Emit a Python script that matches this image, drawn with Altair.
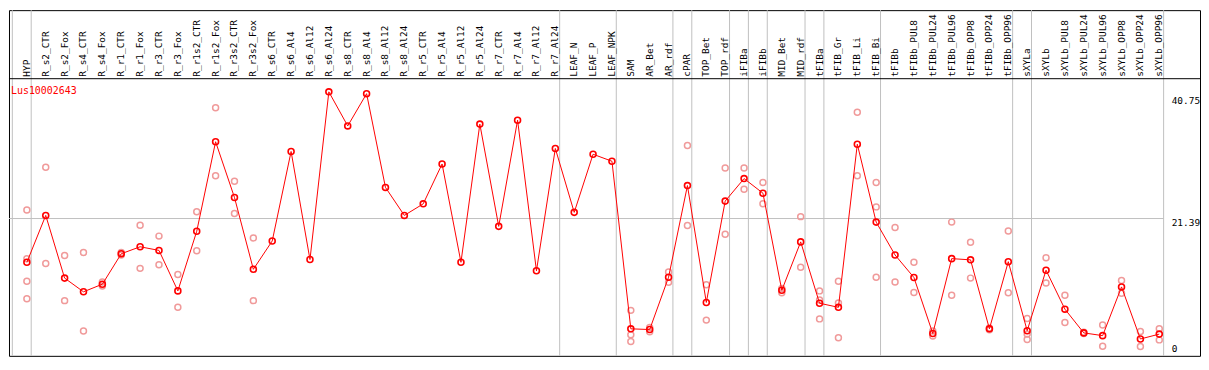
import altair as alt
import pandas as pd

gene = "Lus10002643"

categories = [
    "HYP", "R_s2_CTR", "R_s2_Fox", "R_s4_CTR", "R_s4_Fox", "R_r1_CTR", "R_r1_Fox",
    "R_r3_CTR", "R_r3_Fox", "R_r1s2_CTR", "R_r1s2_Fox", "R_r3s2_CTR", "R_r3s2_Fox",
    "R_s6_CTR", "R_s6_Al4", "R_s6_Al12", "R_s6_Al24", "R_s8_CTR", "R_s8_Al4",
    "R_s8_Al12", "R_s8_Al24", "R_r5_CTR", "R_r5_Al4", "R_r5_Al12", "R_r5_Al24",
    "R_r7_CTR", "R_r7_Al4", "R_r7_Al12", "R_r7_Al24", "LEAF_N", "LEAF_P", "LEAF_NPK",
    "SAM", "AR_Bet", "AR_rdf", "cPAR", "TOP_Bet", "TOP_rdf", "iFIBa", "iFIBb",
    "MID_Bet", "MID_rdf", "tFIBa", "tFIB_Gr", "tFIB_Li", "tFIB_Bi", "tFIBb",
    "tFIBb_PUL8", "tFIBb_PUL24", "tFIBb_PUL96", "tFIBb_OPP8", "tFIBb_OPP24",
    "tFIBb_OPP96", "sXYLa", "sXYLb", "sXYLb_PUL8", "sXYLb_PUL24", "sXYLb_PUL96",
    "sXYLb_OPP8", "sXYLb_OPP24", "sXYLb_OPP96",
]

means = [
    14.2, 21.9, 11.6, 9.35, 10.6, 15.6, 16.75, 16.15, 9.5, 19.3,
    34.0, 24.85, 13.05, 17.7, 32.4, 14.65, 42.2, 36.6, 41.9, 26.5,
    21.9, 23.8, 30.35, 14.2, 36.9, 20.1, 37.55, 12.8, 32.9, 22.4,
    31.95, 30.8, 3.27, 3.15, 11.75, 26.8, 7.6, 24.25, 27.95, 25.55,
    9.6, 17.55, 7.47, 6.8, 33.6, 20.8, 15.4, 11.7, 2.5, 14.8,
    14.6, 3.27, 14.3, 2.96, 12.9, 6.5, 2.6, 2.15, 10.15, 1.6,
    2.4,
]

replicates = [
    [22.8, 14.8, 11.1, 8.2], [29.8, 14.0], [15.3, 7.9], [15.8, 2.9], [10.95, 10.3],
    [15.8, 15.4], [20.3, 13.2], [18.5, 13.8], [12.2, 6.8], [22.5, 16.1],
    [39.6, 28.4], [27.5, 22.2], [18.2, 7.9],
    [], [], [], [], [], [], [], [], [], [], [], [], [], [], [], [], [], [], [],
    [6.3, 2.3, 1.2], [3.5, 2.8], [12.6, 10.9], [33.4, 20.25], [10.5, 4.7],
    [29.7, 18.8], [29.7, 26.2], [27.3, 23.8], [9.9, 9.2], [21.7, 13.4],
    [9.5, 8.0, 4.9], [11.1, 7.5, 1.8], [38.85, 28.4], [27.3, 23.3, 11.75],
    [19.9, 10.95], [14.2, 9.25], [2.9, 2.1], [20.8, 8.77], [17.5, 11.6],
    [3.4, 3.1], [19.35, 9.2], [4.97, 2.4, 1.5], [14.95, 10.8], [8.77, 4.3],
    [2.7, 2.5], [3.9, 0.4], [11.2, 9.1], [2.84, 0.38], [3.3, 1.45],
]

# group separators are drawn just after these category indices
separators_after = [-1, 0, 28, 31, 34, 35, 37, 38, 39, 41, 42, 45, 52, 53, 60]
y_ticks = [0, 21.39, 40.75]
grid_value = 21.39

W, H = 1199, 348
HEADER = 69
MONO = "DejaVu Sans Mono"

x_scale = alt.Scale(domain=[-18 / 19, (W - 18) / 19], nice=False, zero=False)
y_scale = alt.Scale(domain=[-1.17, 55.62], nice=False, zero=False)
y_axis = alt.Axis(
    orient="right", values=y_ticks, offset=-29, grid=False, domain=False,
    ticks=False, labelPadding=0, labelFont=MONO, labelFontSize=9.5,
    labelColor="black", labelAlign="left", labelBaseline="middle",
    labelOffset={"condition": {"test": "datum.value == 21.39", "value": 4}, "value": 0},
    format=".4~g", title=None,
)

mean_df = pd.DataFrame({"idx": list(range(len(categories))), "cat": categories, "value": means})
rep_df = pd.DataFrame(
    [{"idx": i, "value": v} for i, reps in enumerate(replicates) for v in reps]
)
sep_df = pd.DataFrame({"pos": [s + 0.23 for s in separators_after]})
hgrid_df = pd.DataFrame({"x0": [-18 / 19], "x1": [separators_after[-1] + 0.23], "y": [grid_value]})
one_df = pd.DataFrame({"gene": [gene]})

vgrid = alt.Chart(sep_df).mark_rule(color="#c0c0c0", strokeWidth=1).encode(
    x=alt.X("pos:Q", scale=x_scale, axis=None)
)

hgrid = alt.Chart(hgrid_df).mark_rule(color="#c0c0c0", strokeWidth=1).encode(
    x=alt.X("x0:Q", scale=x_scale, axis=None),
    x2="x1:Q",
    y=alt.Y("y:Q", scale=y_scale, axis=y_axis),
)

header_line = alt.Chart(one_df).mark_rule(color="black", strokeWidth=1).encode(
    x=alt.value(0), x2=alt.value(W), y=alt.value(HEADER)
)

labels = alt.Chart(mean_df).mark_text(
    angle=270, align="left", baseline="middle", font=MONO, fontSize=9.5, color="black"
).encode(
    x=alt.X("idx:Q", scale=x_scale, axis=None),
    y=alt.value(HEADER - 2),
    text="cat:N",
)

title = alt.Chart(one_df).mark_text(
    align="left", baseline="middle", font=MONO, fontSize=10, color="red"
).encode(x=alt.value(2), y=alt.value(HEADER + 12), text="gene:N")

reps = alt.Chart(rep_df).mark_point(
    shape="circle", filled=False, color="#f09a9a", size=36, strokeWidth=1.5, opacity=1
).encode(
    x=alt.X("idx:Q", scale=x_scale, axis=None),
    y=alt.Y("value:Q", scale=y_scale, axis=y_axis),
)

line = alt.Chart(mean_df).mark_line(color="red", strokeWidth=1).encode(
    x=alt.X("idx:Q", scale=x_scale, axis=None),
    y=alt.Y("value:Q", scale=y_scale, axis=y_axis),
)

points = alt.Chart(mean_df).mark_point(
    shape="circle", filled=False, color="red", size=36, strokeWidth=1.6, opacity=1
).encode(
    x=alt.X("idx:Q", scale=x_scale, axis=None),
    y=alt.Y("value:Q", scale=y_scale, axis=y_axis),
)

chart = alt.layer(vgrid, hgrid, header_line, labels, title, reps, line, points).properties(
    width=W, height=H, padding=0
).configure_view(stroke="black", strokeWidth=1)

chart.save("out.html", embed_options={"renderer": "svg", "actions": False})
